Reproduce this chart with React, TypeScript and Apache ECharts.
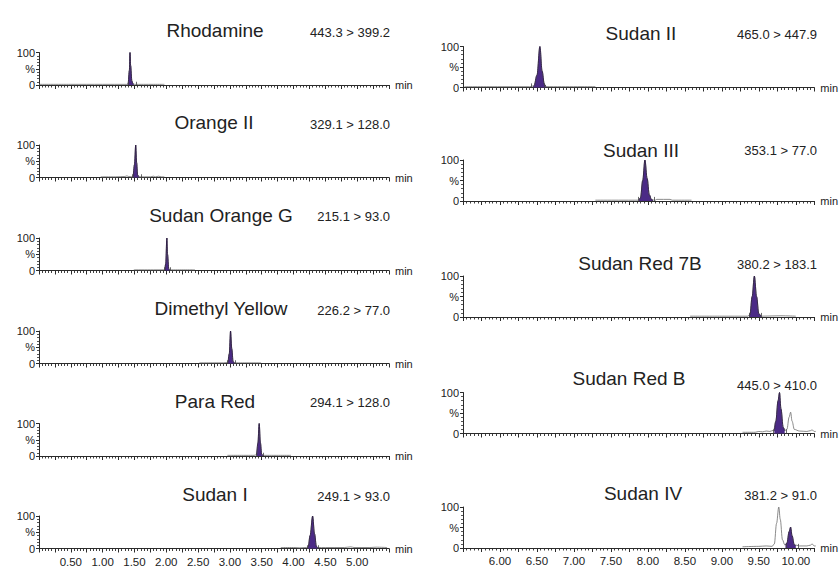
import React, { useEffect, useRef } from "react";
import * as echarts from "echarts";

// ---------- DATA ----------
const leftCompounds = ["Rhodamine", "Orange II", "Sudan Orange G", "Dimethyl Yellow", "Para Red", "Sudan I"];
const leftTransitions = ["443.3 > 399.2", "329.1 > 128.0", "215.1 > 93.0", "226.2 > 77.0", "294.1 > 128.0", "249.1 > 93.0"];
const rightCompounds = ["Sudan II", "Sudan III", "Sudan Red 7B", "Sudan Red B", "Sudan IV"];
const rightTransitions = ["465.0 > 447.9", "353.1 > 77.0", "380.2 > 183.1", "445.0 > 410.0", "381.2 > 91.0"];

const leftRange = [0, 5.5];
const rightRange = [5.5, 10.25];

// traces: [time (min), relative intensity (%)]
const rhodamineTrace = [[0.0, 2], [0.5, 2], [1.0, 2], [1.38, 2], [1.4, 4], [1.42, 45], [1.43, 100], [1.44, 60], [1.46, 12], [1.48, 3], [1.5, 2], [1.97, 2]];
const rhodaminePeak = [[1.39, 2], [1.4, 4], [1.42, 45], [1.43, 100], [1.44, 60], [1.46, 12], [1.48, 3], [1.49, 2]];
const rhodamineMarks = [1.4, 1.53];

const orangeIITrace = [[0.97, 2], [1.2, 2], [1.35, 3], [1.38, 5], [1.41, 3], [1.46, 2], [1.48, 3], [1.5, 40], [1.52, 100], [1.535, 45], [1.55, 8], [1.57, 2], [1.75, 2], [1.8, 4], [1.83, 2], [1.88, 4], [1.92, 2], [1.97, 2]];
const orangeIIPeak = [[1.48, 2], [1.5, 40], [1.52, 100], [1.535, 45], [1.55, 8], [1.57, 2]];
const orangeIIMarks = [1.47, 1.6];

const sudanOrangeGTrace = [[1.49, 2], [1.8, 2], [1.97, 2], [1.99, 20], [2.01, 100], [2.02, 50], [2.04, 5], [2.06, 2], [2.45, 2]];
const sudanOrangeGPeak = [[1.98, 2], [1.99, 20], [2.01, 100], [2.02, 50], [2.04, 5], [2.05, 2]];
const sudanOrangeGMarks = [1.97, 2.06];

const dimethylYellowTrace = [[2.52, 2], [2.9, 2], [2.97, 3], [2.99, 30], [3.01, 100], [3.03, 45], [3.05, 6], [3.07, 2], [3.49, 2]];
const dimethylYellowPeak = [[2.97, 3], [2.99, 30], [3.01, 100], [3.03, 45], [3.05, 6], [3.07, 2]];
const dimethylYellowMarks = [2.96, 3.08];

const paraRedTrace = [[2.96, 2], [3.38, 2], [3.42, 4], [3.44, 40], [3.46, 100], [3.48, 40], [3.5, 5], [3.52, 2], [3.96, 2]];
const paraRedPeak = [[3.42, 4], [3.44, 40], [3.46, 100], [3.48, 40], [3.5, 5], [3.52, 2]];
const paraRedMarks = [3.41, 3.53];

const sudanITrace = [[3.8, 3], [4.0, 3], [4.1, 2], [4.2, 3], [4.23, 5], [4.26, 40], [4.3, 100], [4.33, 45], [4.36, 6], [4.38, 3], [4.5, 3], [4.8, 3], [4.9, 5], [4.95, 3], [5.2, 3], [5.3, 4], [5.47, 3]];
const sudanIPeak = [[4.22, 3], [4.23, 5], [4.26, 40], [4.3, 100], [4.33, 45], [4.36, 6], [4.38, 3]];
const sudanIMarks = [4.21, 4.39];

const sudanIITrace = [[5.52, 2], [6.0, 2], [6.4, 2], [6.46, 4], [6.5, 30], [6.54, 100], [6.57, 40], [6.6, 8], [6.63, 2], [7.29, 2]];
const sudanIIPeak = [[6.45, 2], [6.46, 4], [6.5, 30], [6.54, 100], [6.57, 40], [6.6, 8], [6.62, 2]];
const sudanIIMarks = [6.42, 6.6];

const sudanIIITrace = [[7.29, 2], [7.6, 2], [7.87, 2], [7.9, 8], [7.93, 50], [7.96, 100], [7.99, 55], [8.02, 15], [8.05, 3], [8.1, 2], [8.12, 4], [8.3, 4], [8.33, 2], [8.59, 2]];
const sudanIIIPeak = [[7.88, 2], [7.9, 8], [7.93, 50], [7.96, 100], [7.99, 55], [8.02, 15], [8.05, 3], [8.07, 2]];
const sudanIIIMarks = [7.87, 8.08];

const sudanRed7BTrace = [[8.57, 2], [9.0, 2], [9.35, 2], [9.38, 6], [9.41, 50], [9.44, 100], [9.47, 50], [9.5, 8], [9.53, 2], [9.8, 3], [10.0, 2]];
const sudanRed7BPeak = [[9.37, 2], [9.38, 6], [9.41, 50], [9.44, 100], [9.47, 50], [9.5, 8], [9.53, 2]];
const sudanRed7BMarks = [9.37, 9.53];

const sudanRedBTrace = [[9.28, 3], [9.45, 3], [9.5, 5], [9.55, 4], [9.6, 6], [9.65, 5], [9.7, 8], [9.73, 30], [9.76, 80], [9.78, 100], [9.8, 60], [9.83, 15], [9.86, 8], [9.88, 10], [9.91, 40], [9.93, 52], [9.95, 30], [9.98, 10], [10.05, 6], [10.15, 5], [10.2, 7], [10.22, 9], [10.25, 5], [10.27, 5]];
const sudanRedBPeak = [[9.71, 6], [9.73, 30], [9.76, 80], [9.78, 100], [9.8, 60], [9.83, 15], [9.85, 6]];
const sudanRedBMarks = [9.7, 9.87];

const sudanIVTrace = [[9.28, 3], [9.5, 4], [9.6, 5], [9.68, 4], [9.71, 10], [9.74, 60], [9.77, 100], [9.79, 70], [9.82, 20], [9.85, 8], [9.88, 12], [9.91, 40], [9.93, 51], [9.95, 30], [9.98, 8], [10.05, 5], [10.15, 5], [10.2, 7], [10.22, 10], [10.25, 5], [10.27, 5]];
const sudanIVPeak = [[9.86, 7], [9.88, 12], [9.91, 40], [9.93, 51], [9.95, 30], [9.98, 8], [10.0, 5]];
const sudanIVMarks = [9.87, 10.04];

const leftTraces = [rhodamineTrace, orangeIITrace, sudanOrangeGTrace, dimethylYellowTrace, paraRedTrace, sudanITrace];
const leftPeaks = [rhodaminePeak, orangeIIPeak, sudanOrangeGPeak, dimethylYellowPeak, paraRedPeak, sudanIPeak];
const leftMarks = [rhodamineMarks, orangeIIMarks, sudanOrangeGMarks, dimethylYellowMarks, paraRedMarks, sudanIMarks];
const rightTraces = [sudanIITrace, sudanIIITrace, sudanRed7BTrace, sudanRedBTrace, sudanIVTrace];
const rightPeaks = [sudanIIPeak, sudanIIIPeak, sudanRed7BPeak, sudanRedBPeak, sudanIVPeak];
const rightMarks = [sudanIIMarks, sudanIIIMarks, sudanRed7BMarks, sudanRedBMarks, sudanIVMarks];

// ---------- LAYOUT ----------
const leftGridLeft = 39;
const leftGridWidth = 350;
const leftGridTops = [52.5, 145, 238, 331, 423.5, 516];
const leftGridHeight = 32.5;
const leftTitleX = [215, 214, 221, 221, 215, 215];
const leftTitleY = [30.5, 122.5, 215, 308, 401, 494];
const leftTransRight = 390;
const leftTransY = [32.5, 124, 216, 310, 402, 496];

const rightGridLeft = 463;
const rightGridWidth = 353.5;
const rightGridTops = [46.5, 160, 276, 392.5, 507];
const rightGridHeight = 41;
const rightTitleX = [641, 641, 640, 629, 643];
const rightTitleY = [33, 150, 263, 378, 493];
const rightTransRight = 817;
const rightTransY = [34, 150, 264, 385, 495];

const FONT = '"Liberation Sans", Arial, Helvetica, sans-serif';
const AXIS_COLOR = "#2b2b2b";
const TEXT_COLOR = "#222222";
const FILL_COLOR = "#4b2a86";

export default function App() {
  const ref = useRef<HTMLDivElement>(null);

  useEffect(() => {
    if (!ref.current) return;
    const chart = echarts.init(ref.current, undefined, { renderer: "svg" });

    const grids: any[] = [];
    const xAxes: any[] = [];
    const yAxes: any[] = [];
    const series: any[] = [];
    const graphics: any[] = [];

    const addPanel = (
      idx: number,
      left: number,
      width: number,
      top: number,
      height: number,
      range: number[],
      bottom: boolean,
      trace: number[][],
      peak: number[][],
      marks: number[]
    ) => {
      grids.push({ left, top, width, height, containLabel: false });
      xAxes.push({
        gridIndex: idx,
        type: "value",
        min: range[0],
        max: range[1],
        interval: 0.25,
        name: "min",
        nameLocation: "end",
        nameGap: 6,
        nameTextStyle: { fontSize: 11, color: TEXT_COLOR, fontFamily: FONT, verticalAlign: "middle", padding: [3, 0, 0, 0] },
        axisLine: { show: true, onZero: false, lineStyle: { color: AXIS_COLOR, width: 1 } },
        axisTick: { show: true, length: 4, lineStyle: { color: AXIS_COLOR, width: 1 } },
        minorTick: { show: true, splitNumber: 5, length: 2.5, lineStyle: { color: AXIS_COLOR, width: 0.9 } },
        splitLine: { show: false },
        axisLabel: {
          show: bottom,
          fontSize: 11.5,
          color: TEXT_COLOR,
          fontFamily: FONT,
          margin: 7,
          formatter: (v: number) => {
            const half = Math.abs(v * 2 - Math.round(v * 2)) < 1e-6;
            if (!half) return "";
            if (v <= range[0] + 1e-6 || v >= range[1] - 1e-6) return "";
            return v.toFixed(2);
          },
        },
      });
      yAxes.push({
        gridIndex: idx,
        type: "value",
        min: 0,
        max: 100,
        interval: 50,
        axisLine: { show: true, lineStyle: { color: AXIS_COLOR, width: 1 } },
        axisTick: { show: true, length: 3, lineStyle: { color: AXIS_COLOR, width: 1 } },
        minorTick: { show: true, splitNumber: 5, length: 2, lineStyle: { color: AXIS_COLOR, width: 0.8 } },
        splitLine: { show: false },
        axisLabel: {
          fontSize: 11,
          color: TEXT_COLOR,
          fontFamily: FONT,
          margin: 4,
          formatter: (v: number) => (v === 50 ? "%" : String(v)),
        },
      });
      series.push({
        type: "line",
        xAxisIndex: idx,
        yAxisIndex: idx,
        data: trace,
        symbol: "none",
        smooth: 0.35,
        smoothMonotone: "x",
        lineStyle: { color: "#6d6d6d", width: 0.8 },
        silent: true,
        markLine: {
          silent: true,
          symbol: ["none", "none"],
          label: { show: false },
          lineStyle: { color: "#444", width: 0.8, type: "solid" },
          data: marks.map((t) => [{ coord: [t, 0] }, { coord: [t, 10] }]),
        },
      });
      series.push({
        type: "line",
        xAxisIndex: idx,
        yAxisIndex: idx,
        data: peak,
        symbol: "none",
        smooth: 0.35,
        smoothMonotone: "x",
        lineStyle: { color: "#24123f", width: 0.8 },
        areaStyle: { color: FILL_COLOR, opacity: 1 },
        silent: true,
      });
    };

    let idx = 0;
    leftTraces.forEach((tr, i) => {
      addPanel(idx, leftGridLeft, leftGridWidth, leftGridTops[i], leftGridHeight, leftRange, i === leftTraces.length - 1, tr, leftPeaks[i], leftMarks[i]);
      graphics.push({
        type: "text",
        x: leftTitleX[i],
        y: leftTitleY[i],
        style: { text: leftCompounds[i], font: `19px ${FONT}`, fill: TEXT_COLOR, textAlign: "center", textVerticalAlign: "middle" },
      });
      graphics.push({
        type: "text",
        x: leftTransRight,
        y: leftTransY[i],
        style: { text: leftTransitions[i], font: `13px ${FONT}`, fill: TEXT_COLOR, textAlign: "right", textVerticalAlign: "middle" },
      });
      idx++;
    });
    rightTraces.forEach((tr, i) => {
      addPanel(idx, rightGridLeft, rightGridWidth, rightGridTops[i], rightGridHeight, rightRange, i === rightTraces.length - 1, tr, rightPeaks[i], rightMarks[i]);
      graphics.push({
        type: "text",
        x: rightTitleX[i],
        y: rightTitleY[i],
        style: { text: rightCompounds[i], font: `19px ${FONT}`, fill: TEXT_COLOR, textAlign: "center", textVerticalAlign: "middle" },
      });
      graphics.push({
        type: "text",
        x: rightTransRight,
        y: rightTransY[i],
        style: { text: rightTransitions[i], font: `13px ${FONT}`, fill: TEXT_COLOR, textAlign: "right", textVerticalAlign: "middle" },
      });
      idx++;
    });

    chart.setOption({
      animation: false,
      backgroundColor: "#ffffff",
      textStyle: { fontFamily: FONT },
      grid: grids,
      xAxis: xAxes,
      yAxis: yAxes,
      series,
      graphic: graphics,
    });

    return () => chart.dispose();
  }, []);

  return (
    <div
      ref={ref}
      style={{ position: "fixed", left: 0, top: 0, width: 839, height: 568, background: "#fff" }}
    />
  );
}
